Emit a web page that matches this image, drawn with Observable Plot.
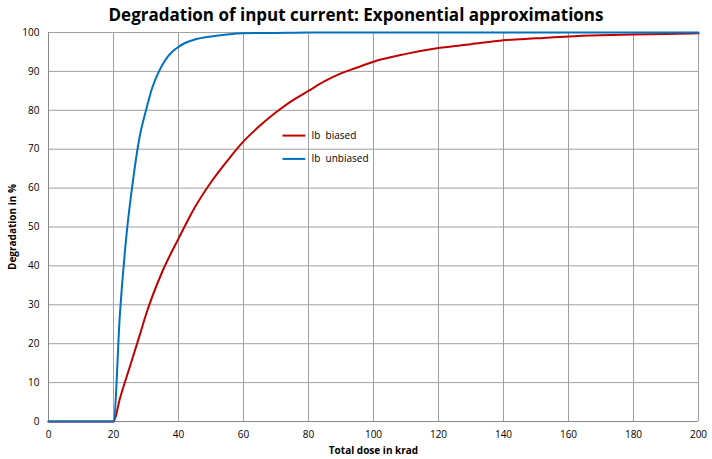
<!DOCTYPE html>
<html><head>
<meta charset="utf-8">
<script src="https://cdn.jsdelivr.net/npm/d3@7"></script>
<script src="https://cdn.jsdelivr.net/npm/@observablehq/plot@0.6"></script>
<style>
body{margin:0;background:#fff;font-family:"Open Sans",sans-serif}
#title{height:24px;line-height:30px;text-align:center;font-weight:bold;font-size:17px;color:#000}
</style>
</head><body>
<div id="title">Degradation of input current: Exponential approximations</div>
<div id="chart"></div>
<script>
const unbiasedDose = [0,20,22,24,26,28,30,32,34,36,38,40,42,45,50,55,60,70,80,200];
const unbiasedVal = [0,0,28,48,62,73,80,86,90,93,95,96.3,97.3,98.2,99,99.5,99.8,99.9,100,100];
const biasedDose = [0,20,22,25,28,30,35,40,45,50,55,60,65,70,75,80,85,90,95,100,110,120,130,140,150,160,170,180,190,200];
const biasedVal = [0,0,6,14,22,27.5,38.5,47,55,61.5,67,72,76,79.5,82.5,85,87.5,89.5,91,92.5,94.5,96,97,98,98.5,99,99.3,99.5,99.6,99.8];
const legend = [{name:"Ib  biased", color:"#c00000", y:73.5},{name:"Ib  unbiased", color:"#0070c0", y:67.5}];

const biased = biasedDose.map((x,i)=>({x, y:biasedVal[i]}));
const unbiased = unbiasedDose.map((x,i)=>({x, y:unbiasedVal[i]}));

const chart = Plot.plot({
  width: 712, height: 435,
  marginTop: 8, marginBottom: 38, marginLeft: 48, marginRight: 14,
  style: {fontFamily: "Open Sans, sans-serif", fontSize: "10px", color: "#000"},
  x: {domain: [0,200], ticks: d3.range(0,201,20), label: "Total dose in krad", labelArrow: "none", labelAnchor: "center", labelOffset: 32, tickSize: 0},
  y: {domain: [0,100], ticks: d3.range(0,101,10), label: "Degradation in %", labelArrow: "none", labelAnchor: "center", labelOffset: 40, tickSize: 0},
  marks: [
    Plot.gridX(d3.range(20,201,20), {stroke:"#a0a0a0", strokeOpacity:1}),
    Plot.gridY(d3.range(10,101,10), {stroke:"#a0a0a0", strokeOpacity:1}),
    Plot.ruleY([0], {stroke:"#888"}),
    Plot.ruleX([0], {stroke:"#888"}),
    Plot.line(biased, {x:"x", y:"y", stroke:"#c00000", strokeWidth:2, curve:"monotone-x"}),
    Plot.line(unbiased, {x:"x", y:"y", stroke:"#0070c0", strokeWidth:2, curve:"monotone-x"}),
    Plot.link(legend, {x1:72, x2:79, y1:"y", y2:"y", stroke:"color", strokeWidth:2}),
    Plot.text(legend, {x:80, y:"y", text:"name", textAnchor:"start", dx:3, fontSize:10})
  ]
});
chart.querySelectorAll("g[aria-label='x-axis label'], g[aria-label='y-axis label']").forEach(e=>e.style.fontWeight="bold");
document.getElementById("chart").appendChild(chart);
</script>
</body></html>
